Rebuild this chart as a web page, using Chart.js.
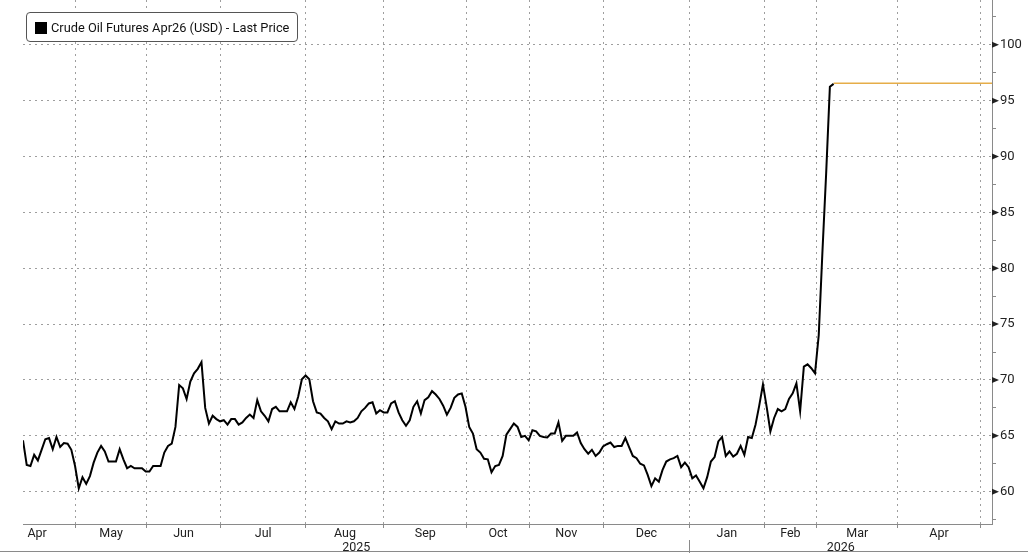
<!DOCTYPE html>
<html>
<head>
<meta charset="utf-8">
<script src="https://cdn.jsdelivr.net/npm/chart.js@4"></script>
<style>
  body { margin: 0; background: #fff; }
  #wrap { position: relative; width: 1028px; height: 553px; }
  #chart { position: absolute; left: 0; top: 0; }
  .legend {
    position: absolute; left: 26px; top: 12px; width: 270px; height: 28px;
    border: 1px solid #555; border-radius: 4px; background: #fff;
    font-family: Roboto, sans-serif; font-size: 12.8px; color: #111;
    box-sizing: content-box;
  }
  .legend .swatch { position: absolute; left: 8px; top: 9px; width: 12px; height: 12px; background: #000; }
  .legend .text { position: absolute; left: 24px; top: 0; line-height: 29px; white-space: nowrap; }
</style>
</head>
<body>
<div id="wrap">
  <canvas id="chart" width="1028" height="553"></canvas>
  <div class="legend"><span class="swatch"></span><span class="text">Crude Oil Futures Apr26 (USD) - Last Price</span></div>
</div>
<script>
// one value per session, evenly spaced on the x axis (session index)
const prices = [
  64.6, 62.4, 62.3, 63.3, 62.8, 63.75, 64.7, 64.8, 63.8, 64.9,
  64.0, 64.35, 64.3, 63.75, 62.3, 60.3, 61.3, 60.7, 61.4, 62.6,
  63.5, 64.1, 63.6, 62.7, 62.7, 62.7, 63.8, 62.9, 62.1, 62.3,
  62.1, 62.1, 62.1, 61.8, 61.8, 62.3, 62.3, 62.3, 63.5, 64.1,
  64.3, 65.8, 69.55, 69.25, 68.3, 69.85, 70.6, 71.0, 71.6, 67.5,
  66.1, 66.8, 66.5, 66.3, 66.4, 66.0, 66.5, 66.5, 66.0, 66.2,
  66.6, 66.9, 66.6, 68.2, 67.2, 66.8, 66.3, 67.4, 67.6, 67.2,
  67.2, 67.2, 68.0, 67.4, 68.5, 70.06, 70.4, 70.06, 68.1, 67.1,
  67.0, 66.6, 66.3, 65.6, 66.3, 66.1, 66.1, 66.3, 66.2, 66.3,
  66.6, 67.2, 67.5, 67.9, 68.0, 67.0, 67.3, 67.1, 67.1, 67.9,
  68.1, 67.1, 66.4, 65.9, 66.4, 67.6, 68.1, 67.0, 68.2, 68.45,
  69.0, 68.7, 68.3, 67.7, 66.9, 67.5, 68.4, 68.7, 68.8, 67.6,
  65.8, 65.2, 63.8, 63.5, 62.95, 62.9, 61.75, 62.3, 62.4, 63.2,
  65.1, 65.6, 66.1, 65.8, 64.9, 65.0, 64.6, 65.5, 65.4, 65.0,
  64.9, 64.85, 65.2, 65.2, 66.2, 64.55, 65.0, 65.0, 65.0, 65.3,
  64.35, 63.8, 63.4, 63.75, 63.2, 63.5, 64.05, 64.25, 64.4, 64.0,
  64.1, 64.1, 64.8, 64.0, 63.2, 63.0, 62.5, 62.35, 61.5, 60.5,
  61.2, 60.9, 61.95, 62.7, 62.9, 63.0, 63.2, 62.2, 62.6, 62.2,
  61.2, 61.45, 60.9, 60.3, 61.3, 62.7, 63.1, 64.5, 64.9, 63.2,
  63.6, 63.15, 63.4, 64.1, 63.3, 64.9, 64.8, 66.0, 67.7, 69.6,
  67.6, 65.4, 66.6, 67.4, 67.2, 67.4, 68.3, 68.8, 69.7, 67.2,
  71.2, 71.4, 71.05, 70.6, 74.0, 81.5, 88.5, 96.25, 96.5
];
const lastPrice = 96.55;

// month boundaries in session units (first one falls before the data starts)
const monthNames = ['Apr', 'May', 'Jun', 'Jul', 'Aug', 'Sep', 'Oct', 'Nov', 'Dec', 'Jan', 'Feb', 'Mar', 'Apr'];
const monthEdges = [-6.6, 14.18, 33.21, 53.12, 76.08, 97.07, 119.32, 136.17, 156.08, 179.22, 199.33, 213.45, 235.25, 257.45];
const yearNames = ['2025', '2026'];
const yearStart = 179.22;
const yTickLabels = [60, 65, 70, 75, 80, 85, 90, 95, 100];

const xMin = 0, xMax = 260.6;
const yMin = 57.11, yMax = 104.01;

const FONT = 'Roboto, sans-serif';
const gridColor = 'rgba(0,0,0,0.38)';
const axisColor = '#8a8a8a';

const extras = {
    id: 'extras',
    afterDraw(chart) {
        const ctx = chart.ctx;
        const x = chart.scales.x, y = chart.scales.y;
        const area = chart.chartArea;
        ctx.save();
        // triangle markers on major y ticks
        ctx.fillStyle = '#222';
        yTickLabels.forEach(v => {
            const py = y.getPixelForValue(v);
            ctx.beginPath();
            ctx.moveTo(area.right, py - 3);
            ctx.lineTo(area.right + 7, py);
            ctx.lineTo(area.right, py + 3);
            ctx.closePath();
            ctx.fill();
        });
        // year labels + separator
        ctx.fillStyle = '#222';
        ctx.font = '12.5px ' + FONT;
        ctx.textAlign = 'center';
        ctx.textBaseline = 'middle';
        const spans = [[xMin, yearStart], [yearStart, xMax]];
        spans.forEach((s, i) => {
            const px = x.getPixelForValue((s[0] + s[1]) / 2);
            ctx.fillText(yearNames[i], px, 548);
        });
        const sx = Math.round(x.getPixelForValue(yearStart)) + 0.5;
        ctx.strokeStyle = axisColor;
        ctx.lineWidth = 1;
        ctx.beginPath();
        ctx.moveTo(sx, 540);
        ctx.lineTo(sx, 553);
        ctx.stroke();
        // frame line at bottom
        ctx.beginPath();
        ctx.moveTo(0, 551.5);
        ctx.lineTo(1028, 551.5);
        ctx.stroke();
        ctx.restore();
    }
};

new Chart(document.getElementById('chart').getContext('2d'), {
    type: 'line',
    data: {
        datasets: [{
            data: prices.map((p, i) => ({ x: i, y: p })),
            borderColor: '#000',
            borderWidth: 2,
            pointRadius: 0,
            tension: 0
        }, {
            data: [{ x: prices.length - 1, y: lastPrice }, { x: xMax, y: lastPrice }],
            borderColor: '#e6ad48',
            borderWidth: 1.5,
            pointRadius: 0
        }]
    },
    options: {
        responsive: false,
        animation: false,
        devicePixelRatio: 1,
        layout: { padding: { left: 23, top: 0, right: 0, bottom: 0 } },
        plugins: { legend: { display: false }, tooltip: { enabled: false } },
        scales: {
            x: {
                type: 'linear',
                min: xMin,
                max: xMax,
                afterBuildTicks: scale => {
                    const t = [];
                    monthEdges.forEach(e => { if (e >= xMin && e <= xMax) t.push({ value: e }); });
                    monthNames.forEach((n, i) => {
                        t.push({ value: (monthEdges[i] + monthEdges[i + 1]) / 2, name: n });
                    });
                    t.sort((a, b) => a.value - b.value);
                    scale.ticks = t;
                },
                afterFit: scale => {
                    scale.height = 29;
                    scale.paddingLeft = 0;
                    scale.paddingRight = 0;
                },
                grid: {
                    color: c => (c.tick && c.tick.name) ? 'transparent' : gridColor,
                    tickColor: c => (c.tick && c.tick.name) ? 'transparent' : axisColor,
                    tickLength: 4,
                    lineWidth: 1
                },
                border: { display: true, color: axisColor, dash: [2, 4] },
                ticks: {
                    autoSkip: false,
                    maxRotation: 0,
                    padding: -2,
                    color: '#222',
                    font: { family: FONT, size: 12.5 },
                    callback: (v, i, ticks) => ticks[i].name || ''
                }
            },
            y: {
                type: 'linear',
                position: 'right',
                min: yMin,
                max: yMax,
                afterBuildTicks: scale => {
                    const t = [];
                    for (let v = 57.5; v <= yMax; v += 2.5) t.push({ value: v });
                    scale.ticks = t;
                },
                afterFit: scale => {
                    scale.width = 36;
                    scale.paddingTop = 0;
                    scale.paddingBottom = 0;
                },
                grid: {
                    color: c => (c.tick && c.tick.value % 5 === 0) ? gridColor : 'transparent',
                    tickColor: c => (c.tick && c.tick.value % 5 === 0) ? 'transparent' : axisColor,
                    tickLength: 4,
                    lineWidth: 1
                },
                border: { display: true, color: axisColor, dash: [2, 4] },
                ticks: {
                    autoSkip: false,
                    padding: 4,
                    color: '#222',
                    font: { family: FONT, size: 13 },
                    callback: v => (v % 5 === 0 ? v : '')
                }
            }
        }
    },
    plugins: [extras]
});
</script>
</body>
</html>
